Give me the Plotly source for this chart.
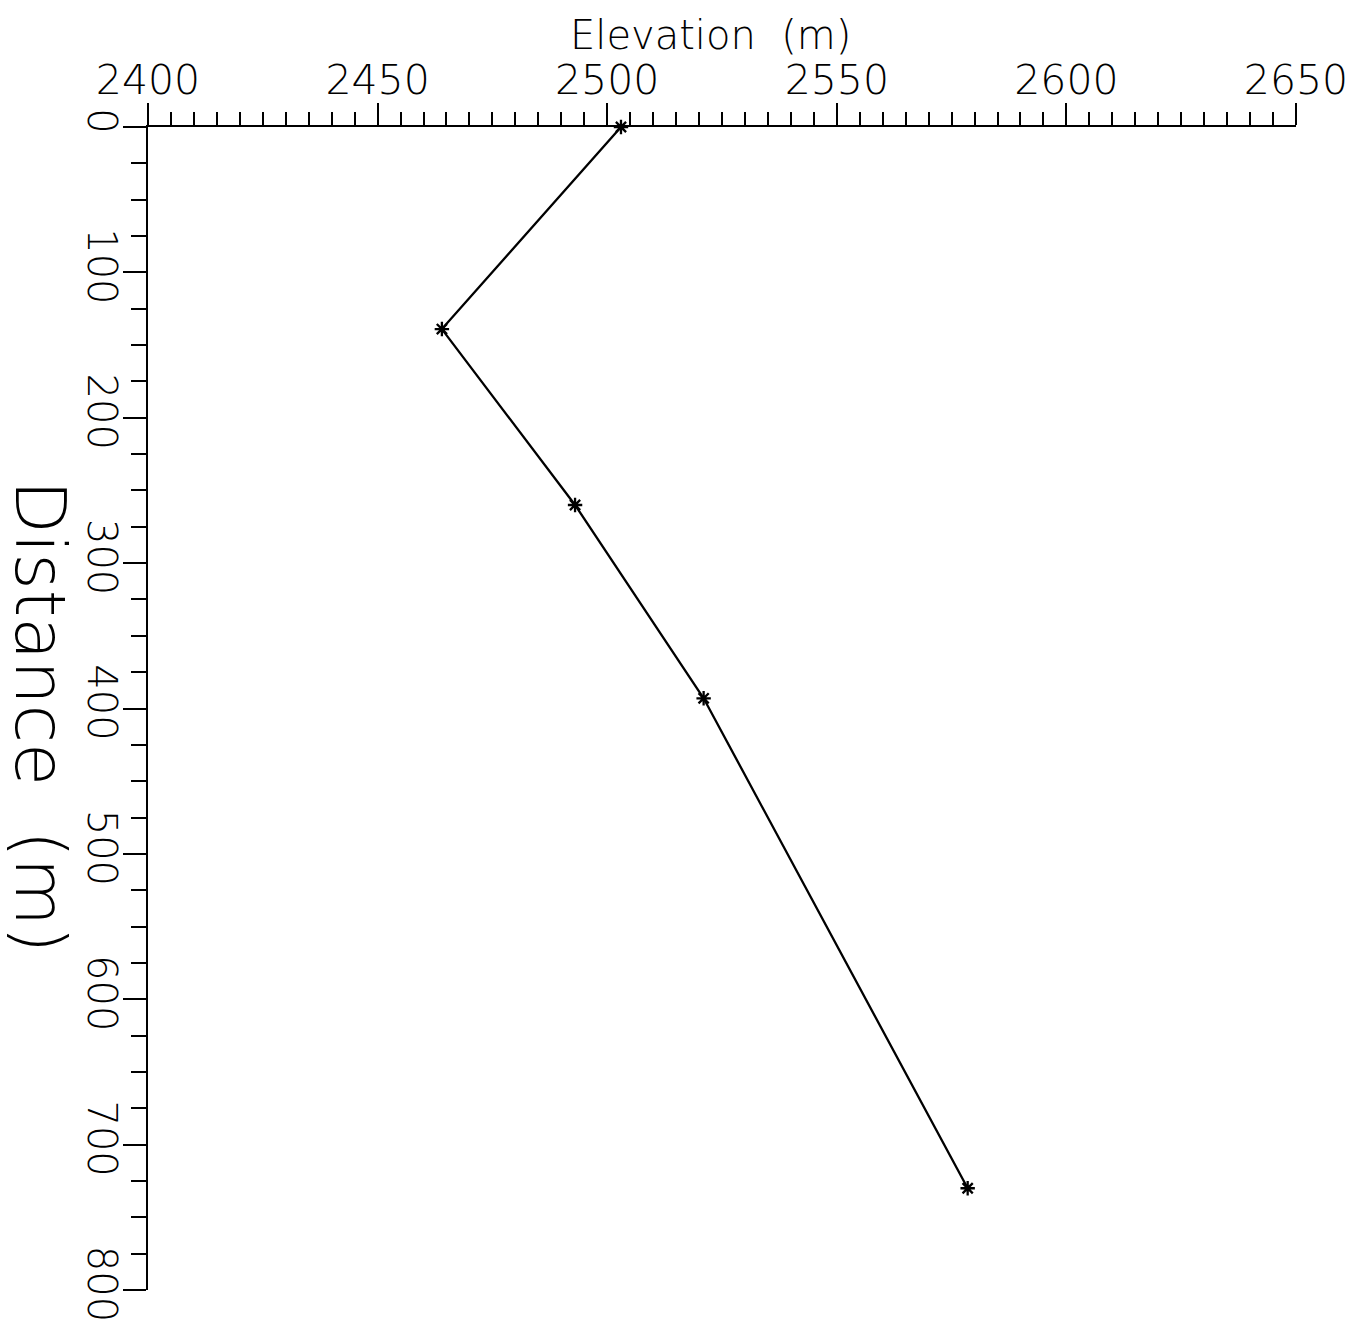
import plotly.graph_objects as go

elevation = [2503, 2464, 2493, 2521, 2578.5]
distance = [0, 139, 260, 393, 730]

x_ticks = [2400, 2450, 2500, 2550, 2600, 2650]
y_ticks = [0, 100, 200, 300, 400, 500, 600, 700, 800]

font_family = "DejaVu Sans"
W = 200

fig = go.Figure()
fig.add_trace(go.Scatter(
    x=elevation, y=distance, mode="lines+markers",
    line=dict(color="black", width=2.3),
    marker=dict(symbol="asterisk-open", size=12, color="black",
                line=dict(color="black", width=2.3)),
    showlegend=False, cliponaxis=False,
))

fig.update_layout(
    width=1360, height=1334,
    margin=dict(l=148, r=61, t=127, b=42),
    paper_bgcolor="white", plot_bgcolor="white",
    font=dict(family=font_family, color="black", weight=W),
    xaxis=dict(
        side="top", range=[2400, 2650], tickmode="array", tickvals=x_ticks,
        ticktext=[str(v) for v in x_ticks],
        ticks="outside", ticklen=22, tickwidth=2, tickcolor="black",
        minor=dict(dtick=5, tick0=2400, ticks="outside", ticklen=13,
                   tickwidth=2, tickcolor="black", showgrid=False),
        showline=True, linewidth=2, linecolor="black",
        showgrid=False, zeroline=False, ticklabelstandoff=-7,
        tickfont=dict(size=41, family=font_family, color="black", weight=W),
    ),
    yaxis=dict(
        range=[800, 0], tickmode="array", tickvals=y_ticks,
        ticktext=[str(v) for v in y_ticks],
        ticks="outside", ticklen=23, tickwidth=2, tickcolor="black",
        minor=dict(dtick=25, tick0=0, ticks="outside", ticklen=15,
                   tickwidth=2, tickcolor="black", showgrid=False),
        showline=True, linewidth=2, linecolor="black",
        showgrid=False, zeroline=False, tickangle=90, ticklabelstandoff=-13,
        tickfont=dict(size=40, family=font_family, color="black", weight=W),
    ),
    annotations=[
        dict(text="Elevation  (m)", xref="paper", yref="paper",
             x=0.49, y=1.079, showarrow=False,
             font=dict(size=40, family=font_family, color="black", weight=W),
             xanchor="center", yanchor="middle"),
        dict(text="Distance  (m)", xref="paper", yref="paper",
             x=-0.0935, y=0.493, showarrow=False, textangle=90,
             font=dict(size=70, family=font_family, color="black", weight=W),
             xanchor="center", yanchor="middle"),
    ],
)

fig.write_html("out.html")
